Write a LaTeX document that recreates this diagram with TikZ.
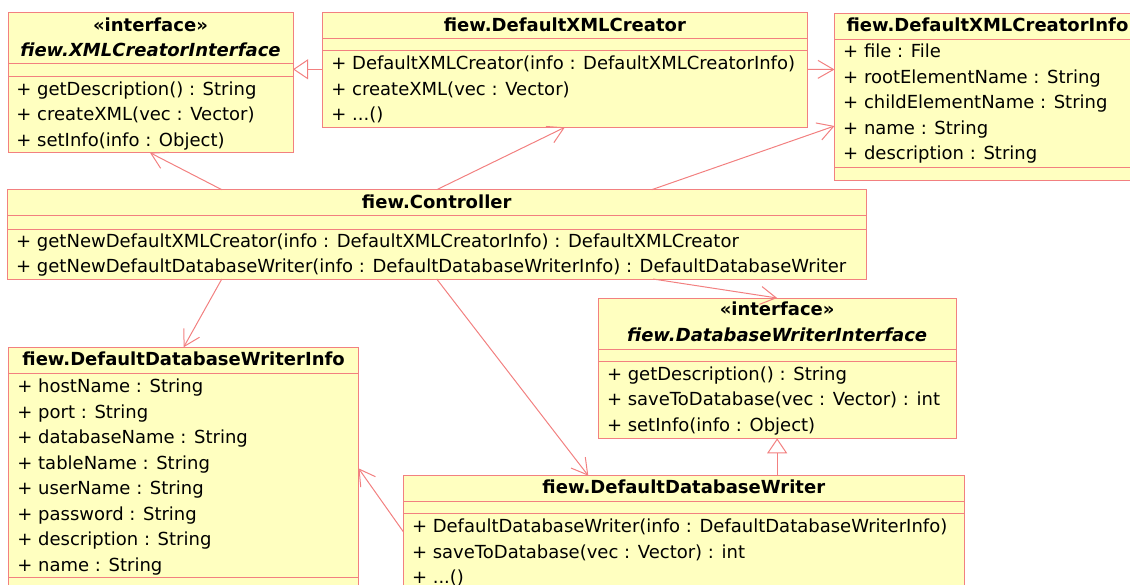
\documentclass[tikz,border=0pt]{standalone}
\usepackage{fontspec}
\setmainfont{DejaVu Sans}
\usetikzlibrary{arrows.meta,calc}
\definecolor{umlfill}{RGB}{255,255,192}
\definecolor{umlline}{RGB}{242,128,128}

\begin{document}
\begin{tikzpicture}[x=1pt,y=-1pt,
  umlbox/.style={rectangle, draw=umlline, fill=umlfill, line width=1pt,
    inner sep=0pt, outer sep=0pt, anchor=north west},
  member/.style={anchor=base west, inner sep=0pt, font=\fontsize{18}{18}\selectfont},
  classname/.style={anchor=base, inner sep=0pt, font=\fontsize{18}{18}\selectfont\bfseries},
  ifacename/.style={anchor=base, inner sep=0pt, font=\fontsize{18}{18}\selectfont\bfseries\itshape},
  compline/.style={draw=umlline, line width=1pt},
  assoc/.style={draw=umlline, line width=1pt, -{Straight Barb[length=15.6pt,width=18pt]}},
  realize/.style={draw=umlline, line width=1pt, -{Triangle[open,length=15pt,width=20pt]}},
]
\useasboundingbox (0,0) rectangle (1130,584);
\clip (0,0) rectangle (1130,584);

% ---------- class boxes ----------
\node[umlbox, minimum width=285pt,   minimum height=140pt]   (xci)  at (8,12.7) {};
\node[umlbox, minimum width=484.3pt, minimum height=114.6pt] (dxc)  at (322.7,12.7) {};
\node[umlbox, minimum width=306pt,   minimum height=166.5pt] (dxci) at (834.5,13.5) {};
\node[umlbox, minimum width=858.5pt, minimum height=89.3pt]  (ctrl) at (7.5,189.7) {};
\node[umlbox, minimum width=357.7pt, minimum height=140.3pt] (dwi)  at (598.3,298) {};
\node[umlbox, minimum width=349.8pt, minimum height=244pt]   (ddwi) at (8.7,347.3) {};
\node[umlbox, minimum width=561pt,   minimum height=116pt]   (ddw)  at (403.3,475.7) {};

% ---------- fiew.XMLCreatorInterface ----------
\node[classname] (xci-st) at (150.5,31) {«interface»};
\node[ifacename] (xci-nm) at (150.5,56.5) {fiew.XMLCreatorInterface};
\draw[compline] (8,63) -- (293,63);
\draw[compline] (8,76.3) -- (293,76.3);
\node[member] (xci-m1) at (16.2,95.3)  {+ getDescription() : String};
\node[member] (xci-m2) at (16.2,120.8) {+ createXML(vec : Vector)};
\node[member] (xci-m3) at (16.2,146.3) {+ setInfo(info : Object)};

% ---------- fiew.DefaultXMLCreator ----------
\node[classname] (dxc-nm) at (564.85,31) {fiew.DefaultXMLCreator};
\draw[compline] (322.7,38.3) -- (807,38.3);
\draw[compline] (322.7,50.7) -- (807,50.7);
\node[member] (dxc-m1) at (331.2,69.5)  {+ DefaultXMLCreator(info : DefaultXMLCreatorInfo)};
\node[member] (dxc-m2) at (331.2,95)    {+ createXML(vec : Vector)};
\node[member] (dxc-m3) at (331.2,120.5) {+ ...()};

% ---------- fiew.DefaultXMLCreatorInfo ----------
\node[classname] (dxci-nm) at (987.5,31.5) {fiew.DefaultXMLCreatorInfo};
\draw[compline] (834.5,39) -- (1140.5,39);
\node[member] (dxci-a1) at (843,57.5)  {+ file : File};
\node[member] (dxci-a2) at (843,83)    {+ rootElementName : String};
\node[member] (dxci-a3) at (843,108.5) {+ childElementName : String};
\node[member] (dxci-a4) at (843,134)   {+ name : String};
\node[member] (dxci-a5) at (843,159.5) {+ description : String};
\draw[compline] (834.5,167.7) -- (1140.5,167.7);

% ---------- fiew.Controller ----------
\node[classname] (ctrl-nm) at (436.75,208) {fiew.Controller};
\draw[compline] (7.5,215.3) -- (866,215.3);
\draw[compline] (7.5,229) -- (866,229);
\node[member] (ctrl-m1) at (16,247)   {+ getNewDefaultXMLCreator(info : DefaultXMLCreatorInfo) : DefaultXMLCreator};
\node[member] (ctrl-m2) at (16,272.5) {+ getNewDefaultDatabaseWriter(info : DefaultDatabaseWriterInfo) : DefaultDatabaseWriter};

% ---------- fiew.DatabaseWriterInterface ----------
\node[classname] (dwi-st) at (777.15,315.7) {«interface»};
\node[ifacename] (dwi-nm) at (777.15,341) {fiew.DatabaseWriterInterface};
\draw[compline] (598.3,349) -- (956,349);
\draw[compline] (598.3,361.3) -- (956,361.3);
\node[member] (dwi-m1) at (606.8,380)   {+ getDescription() : String};
\node[member] (dwi-m2) at (606.8,405.5) {+ saveToDatabase(vec : Vector) : int};
\node[member] (dwi-m3) at (606.8,431)   {+ setInfo(info : Object)};

% ---------- fiew.DefaultDatabaseWriterInfo ----------
\node[classname] (ddwi-nm) at (183.6,365.5) {fiew.DefaultDatabaseWriterInfo};
\draw[compline] (8.7,373.3) -- (358.5,373.3);
\node[member] (ddwi-a1) at (17.2,392.5) {+ hostName : String};
\node[member] (ddwi-a2) at (17.2,418)   {+ port : String};
\node[member] (ddwi-a3) at (17.2,443.5) {+ databaseName : String};
\node[member] (ddwi-a4) at (17.2,469)   {+ tableName : String};
\node[member] (ddwi-a5) at (17.2,494.5) {+ userName : String};
\node[member] (ddwi-a6) at (17.2,520)   {+ password : String};
\node[member] (ddwi-a7) at (17.2,545.5) {+ description : String};
\node[member] (ddwi-a8) at (17.2,571)   {+ name : String};
\draw[compline] (8.7,577.3) -- (358.5,577.3);

% ---------- fiew.DefaultDatabaseWriter ----------
\node[classname] (ddw-nm) at (683.8,493.5) {fiew.DefaultDatabaseWriter};
\draw[compline] (403.3,501) -- (964.3,501);
\draw[compline] (403.3,513.3) -- (964.3,513.3);
\node[member] (ddw-m1) at (411.8,532.5) {+ DefaultDatabaseWriter(info : DefaultDatabaseWriterInfo)};
\node[member] (ddw-m2) at (411.8,558)   {+ saveToDatabase(vec : Vector) : int};
\node[member] (ddw-m3) at (411.8,583.5) {+ ...()};

% ---------- relations ----------
\draw[realize] ($(dxc.north west)+(0,56.6)$) -- ($(xci.north east)+(0,56.6)$);
\draw[assoc]   ($(dxc.north east)+(0,56.6)$) -- ($(dxci.north west)+(0,56)$);
\draw[assoc]   ($(ctrl.north west)+(214.3,0)$) -- ($(xci.south west)+(142,0)$);
\draw[assoc]   ($(ctrl.north west)+(429.2,0)$) -- (dxc.south);
\draw[assoc]   ($(ctrl.north west)+(644.2,0)$) -- ($(dxci.north west)+(0,112.5)$);
\draw[assoc]   ($(ctrl.south west)+(214.3,0)$) -- (ddwi.north);
\draw[assoc]   ($(ctrl.south west)+(429.2,0)$) -- ($(ddw.north west)+(185,0)$);
\draw[assoc]   ($(ctrl.south west)+(645.5,0)$) -- (dwi.north);
\draw[realize] (dwi.south |- ddw.north) -- (dwi.south);
\draw[assoc]   ($(ddw.north west)+(0,56)$) -- ($(ddwi.north east)+(0,121)$);
\end{tikzpicture}
\end{document}
